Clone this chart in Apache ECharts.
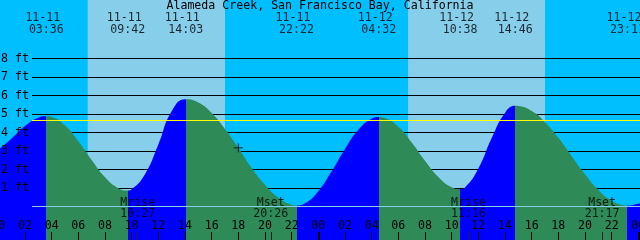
<!DOCTYPE html>
<html><head><meta charset="utf-8">
<script src="https://cdn.jsdelivr.net/npm/echarts@6/dist/echarts.min.js"></script>
<style>html,body{margin:0;padding:0;background:#00BFFF}#c{width:640px;height:240px}</style>
</head><body><div id="c"></div>
<script>
// ---------------- data ----------------
const chartTitle = 'Alameda Creek, San Francisco Bay, California';
// hours since 11-11 00:00 and tide level (ft)
const tideHours = [0, 1, 2, 3, 3.6, 4, 5, 6, 7, 8, 9, 9.7, 10, 11, 12, 13, 14.05, 15, 16, 17, 18, 19, 20, 21, 22, 22.367,
  23, 24, 25, 26, 27, 28, 28.533, 29, 30, 31, 32, 33, 34, 34.633, 35, 36, 37, 38, 38.767, 39, 40, 41, 42, 43, 44, 45, 46, 47, 47.183, 48, 48.125];
const tideFeet = [3.07, 3.68, 4.35, 4.80, 4.88, 4.84, 4.38, 3.53, 2.51, 1.58, 0.99, 0.86, 0.93, 1.75, 3.35, 5.15, 5.80, 5.62, 5.06, 4.19, 3.16, 2.08, 1.17, 0.47, 0.09, 0.05,
  0.17, 0.83, 1.90, 3.11, 4.15, 4.75, 4.84, 4.78, 4.31, 3.46, 2.47, 1.59, 1.04, 0.94, 1.03, 2.05, 3.70, 5.06, 5.44, 5.43, 5.16, 4.56, 3.71, 2.72, 1.74, 0.89, 0.31, 0.06, 0.05, 0.15, 0.17];
// tide extremes
const eventHours = [3.6, 9.7, 14.05, 22.367, 28.533, 34.633, 38.767, 47.183];
const eventKinds = ['H', 'L', 'H', 'L', 'H', 'L', 'H', 'L'];
const eventDates = ['11-11', '11-11', '11-11', '11-11', '11-12', '11-12', '11-12', '11-12'];
const eventClock = ['03:36', '09:42', '14:03', '22:22', '04:32', '10:38', '14:46', '23:11'];
// moon events
const moonHours = [10.45, 20.433, 35.267, 45.283];
const moonNames = ['Mrise', 'Mset', 'Mrise', 'Mset'];
const moonClock = ['10:27', '20:26', '11:16', '21:17'];
// daylight (sunrise, sunset) in hours
const daylight = [[6.70, 17.0], [30.73, 41.0]];
// level ticks (ft)
const levelTicks = [1, 2, 3, 4, 5, 6, 7, 8];
const refLevel = 4.65;          // yellow line
const nowPoint = [18.0, 3.17];  // "+" marker
const dayBreaks = [24, 48];

// ---------------- layout ----------------
const W = 640, H = 240;
const FT_PX = 18.5, ZERO_Y = 206.5;
const HOUR_PX = 40 / 3, X0 = -5 / 3;
const X_MAX = (W - X0) / HOUR_PX;
const Y_MIN = -(H - ZERO_Y) / FT_PX, Y_MAX = ZERO_Y / FT_PX;
const LINE_START_H = (32 - X0) / HOUR_PX;
const EVENT_LABEL_FT = (ZERO_Y - 23.85) / FT_PX;
const MOON_LABEL_FT = (ZERO_Y - 208) / FT_PX;

const NIGHT = '#00BFFF', DAY = '#87CEEB', FALL = '#2E8B57', RISE = '#0000FF';
const FONT = 'DejaVu Sans Mono', FS = 11.6;

// rising/falling pieces along time
const pieces = [];
let prev = -Infinity;
eventHours.forEach((t, i) => {
  const col = eventKinds[i] === 'H' ? RISE : FALL;
  const p = { lt: t, color: col };
  if (prev !== -Infinity) p.gte = prev;
  pieces.push(p);
  prev = t;
});
pieces.push({ gte: prev, color: eventKinds[eventKinds.length - 1] === 'H' ? FALL : RISE });

const tideData = tideHours.map((t, i) => [t, tideFeet[i]]);
const txt = { fontFamily: FONT, fontSize: FS, color: '#000' };
const noLine = { show: false, onZero: false };

const chart = echarts.init(document.getElementById('c'), null, { renderer: 'canvas', width: W, height: H });
chart.setOption({
  animation: false,
  backgroundColor: NIGHT,
  title: { text: chartTitle, left: 'center', top: 0, padding: 0, textStyle: Object.assign({ fontWeight: 'normal' }, txt) },
  grid: [
    { left: X0, right: 0, top: 0, bottom: 0, containLabel: false, outerBoundsMode: 'none' },
    { left: 32, right: 0, top: ZERO_Y - 8 * FT_PX, bottom: H - (ZERO_Y - FT_PX), containLabel: false, outerBoundsMode: 'none' }
  ],
  xAxis: [
    { gridIndex: 0, type: 'value', position: 'bottom', min: 0, max: X_MAX, interval: 2, z: 5,
      axisLine: noLine, splitLine: { show: false },
      axisTick: { show: true, inside: true, length: 8, lineStyle: { color: '#000', width: 1 } },
      axisLabel: Object.assign({ inside: true, margin: 8, showMinLabel: true, showMaxLabel: true,
        formatter: v => (Math.abs(v % 2) < 1e-9) ? String(Math.round(v) % 24).padStart(2, '0') : '' }, txt) },
    { gridIndex: 0, type: 'value', position: 'bottom', min: 0, max: X_MAX, z: 5,
      axisLine: noLine, splitLine: { show: false }, axisLabel: { show: false },
      axisTick: { show: true, inside: true, length: 8, customValues: dayBreaks, lineStyle: { color: '#000', width: 2 } } },
    { gridIndex: 0, type: 'value', position: 'bottom', min: 0, max: X_MAX, z: 5,
      axisLine: noLine, splitLine: { show: false }, axisLabel: { show: false },
      axisTick: { show: true, inside: true, length: 8, customValues: moonHours, lineStyle: { color: '#222', width: 1 } } },
    { gridIndex: 1, type: 'value', min: 0, max: 1, show: false }
  ],
  yAxis: [
    { gridIndex: 0, type: 'value', min: Y_MIN, max: Y_MAX, show: false },
    { gridIndex: 1, type: 'value', position: 'left', min: 1, max: 8, interval: 1, z: 1.6,
      axisLine: noLine, axisTick: { show: false }, axisLabel: { show: false },
      splitLine: { show: true, lineStyle: { color: '#000', width: 1 } } },
    { gridIndex: 1, type: 'value', position: 'left', min: 1, max: 8, interval: 1, z: 6,
      axisLine: noLine, axisTick: { show: false }, splitLine: { show: false },
      axisLabel: Object.assign({ show: true, margin: 3, formatter: v => levelTicks.includes(v) ? v + ' ft' : '' }, txt) }
  ],
  visualMap: { type: 'piecewise', show: false, dimension: 0, seriesIndex: 1, pieces: pieces },
  series: [
    { type: 'line', xAxisIndex: 0, yAxisIndex: 0, data: [], z: 1, silent: true,
      markArea: { silent: true, z: 1, itemStyle: { color: DAY }, data: daylight.map(d => [{ xAxis: d[0] }, { xAxis: d[1] }]) } },
    { type: 'line', name: 'tide', xAxisIndex: 0, yAxisIndex: 0, data: tideData, z: 2, smooth: 0.5,
      showSymbol: false, symbol: 'none', lineStyle: { width: 0, opacity: 0 }, areaStyle: { opacity: 1, origin: 'start' }, silent: true },
    { type: 'line', xAxisIndex: 0, yAxisIndex: 0, data: [], z: 5, silent: true,
      markLine: { silent: true, z: 5, symbol: 'none', label: { show: false },
        data: [
          [{ coord: [LINE_START_H, 0], lineStyle: { color: DAY, width: 1, type: 'solid' } }, { coord: [X_MAX, 0] }],
          [{ coord: [LINE_START_H, refLevel], lineStyle: { color: '#FFFF00', width: 1, type: 'solid' } }, { coord: [X_MAX, refLevel] }]
        ] } },
    { type: 'scatter', xAxisIndex: 0, yAxisIndex: 0, z: 6, silent: true, symbolSize: 1,
      itemStyle: { color: 'rgba(0,0,0,0)' },
      data: eventHours.map((t, i) => ({ value: [t, EVENT_LABEL_FT], d: eventDates[i], c: eventClock[i] })),
      label: Object.assign({ show: true, position: 'inside', lineHeight: 11.7, align: 'center', verticalAlign: 'middle',
        formatter: p => p.data.d + ' \n' + p.data.c }, txt) },
    { type: 'scatter', xAxisIndex: 0, yAxisIndex: 0, z: 6, silent: true, symbolSize: 1,
      itemStyle: { color: 'rgba(0,0,0,0)' },
      data: moonHours.map((t, i) => ({ value: [t, MOON_LABEL_FT], n: moonNames[i], c: moonClock[i] })),
      label: Object.assign({ show: true, position: 'inside', lineHeight: 11, align: 'center', verticalAlign: 'middle',
        formatter: p => p.data.n + '\n' + p.data.c }, txt) },
    { type: 'scatter', xAxisIndex: 0, yAxisIndex: 0, z: 6, silent: true,
      symbol: 'path://M0,4.5H9M4.5,0V9', symbolSize: 9, data: [nowPoint],
      itemStyle: { color: 'none', borderColor: '#000', borderWidth: 1 } }
  ]
});
</script></body></html>
